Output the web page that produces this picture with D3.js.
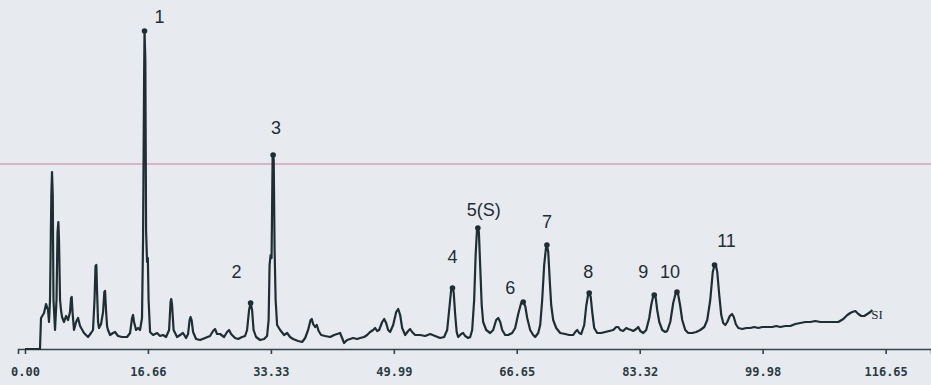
<!DOCTYPE html>
<html>
<head>
<meta charset="utf-8">
<script src="https://cdn.jsdelivr.net/npm/d3@7"></script>
<style>
  html, body { margin: 0; padding: 0; background: #e7ebf0; }
  svg { display: block; }
  .axis path, .axis line { stroke: #33444a; stroke-width: 1.6; }
  .axis text { font-family: "DejaVu Sans Mono", monospace; font-size: 12px; fill: #2a3a40; font-weight: bold; }
</style>
</head>
<body>
<svg id="chart"></svg>
<script>
// retention time (min) vs detector signal
const times = [
  0, 2.03, 2.17, 2.58, 2.85, 3.12, 3.25, 3.39, 3.57, 3.66, 3.76, 3.86, 4.07, 4.27, 4.41, 4.52, 4.61, 4.75, 4.88, 5.02,
  5.29, 5.56, 5.83, 6.10, 6.24, 6.33, 6.44, 6.64, 6.92, 7.19, 7.46, 8.00, 8.54, 8.95, 9.22, 9.42, 9.56, 9.67, 9.76, 9.90,
  10.03, 10.31, 10.58, 10.75, 10.85, 10.98, 11.12, 11.25, 11.53, 11.93, 12.20, 12.61, 13.15, 13.83, 14.24, 14.51, 14.64, 14.78, 15.05, 15.32,
  15.59, 15.86, 16.00, 16.14, 16.20, 16.31, 16.41, 16.54, 16.65, 16.75, 16.95, 17.36, 17.90, 18.31, 18.71, 19.12, 19.53, 19.73, 19.82, 19.93,
  20.14, 20.61, 21.02, 21.42, 21.83, 22.10, 22.31, 22.44, 22.58, 22.78, 23.19, 23.73, 24.41, 25.08, 25.49, 25.76, 26.03, 26.44, 26.98, 27.39,
  27.66, 27.93, 28.47, 28.88, 29.42, 29.83, 30.10, 30.37, 30.58, 30.78, 30.98, 31.32, 31.86, 32.41, 32.81, 33.02, 33.15, 33.29, 33.42, 33.56,
  33.63, 33.71, 33.83, 33.97, 34.17, 34.58, 35.12, 35.53, 35.93, 36.34, 37.02, 37.56, 37.97, 38.37, 38.71, 38.87, 39.05, 39.32, 39.55, 39.80,
  40.14, 40.68, 41.36, 41.90, 42.31, 42.71, 42.98, 43.25, 43.66, 44.07, 44.47, 45.02, 45.42, 45.97, 46.37, 46.78, 47.19, 47.46, 47.73, 48.00,
  48.41, 48.68, 48.95, 49.22, 49.49, 49.90, 50.31, 50.58, 50.85, 51.12, 51.53, 51.93, 52.20, 52.47, 52.88, 53.15, 53.56, 54.24, 54.92, 55.59,
  56.27, 56.81, 57.22, 57.56, 57.76, 57.94, 58.10, 58.31, 58.51, 58.71, 59.12, 59.39, 59.66, 60.07, 60.34, 60.61, 60.88, 61.08, 61.26, 61.38,
  61.52, 61.69, 61.90, 62.10, 62.51, 63.05, 63.46, 63.86, 64.14, 64.41, 64.68, 65.08, 65.49, 66.03, 66.44, 66.85, 67.25, 67.53, 67.80, 68.07,
  68.47, 68.88, 69.15, 69.56, 69.83, 70.10, 70.37, 70.64, 70.74, 70.92, 71.12, 71.32, 71.59, 72.00, 72.54, 73.22, 73.76, 74.31, 74.58, 74.85,
  75.12, 75.39, 75.80, 76.07, 76.34, 76.47, 76.68, 76.88, 77.15, 77.56, 78.10, 78.64, 79.19, 79.73, 80.14, 80.41, 80.68, 81.08, 81.49, 81.76,
  82.17, 82.44, 82.85, 83.12, 83.39, 83.80, 84.20, 84.61, 84.88, 85.15, 85.29, 85.49, 85.69, 85.97, 86.37, 86.78, 87.05, 87.46, 87.86, 88.20,
  88.37, 88.54, 88.81, 89.08, 89.49, 89.90, 90.44, 90.98, 91.53, 92.07, 92.47, 92.88, 93.22, 93.46, 93.63, 93.83, 94.10, 94.37, 94.64, 94.92,
  95.19, 95.53, 95.83, 96.07, 96.34, 96.68, 97.22, 97.76, 98.31, 98.85, 99.39, 99.93, 100.61, 101.29, 101.83, 102.37, 103.05, 103.73, 104.41, 105.08,
  105.76, 106.44, 107.12, 107.80, 108.61, 109.56, 110.24, 110.92, 111.46, 111.86, 112.14, 112.54, 112.95, 113.36, 113.76, 114.17, 114.58, 114.85
];

const signal = [
  0, 0, 31, 36, 45, 39, 27, 49, 154, 177, 154, 49, 19, 49, 117, 127, 109, 49, 39, 32,
  27, 33, 29, 37, 51, 52, 37, 19, 27, 31, 23, 16, 12, 16, 19, 49, 83, 84, 59, 27,
  21, 25, 37, 57, 58, 39, 23, 19, 14, 16, 17, 13, 12, 12, 16, 31, 34, 27, 19, 21,
  19, 31, 109, 269, 318, 289, 119, 87, 91, 49, 17, 14, 16, 13, 14, 12, 19, 47, 50, 44,
  19, 12, 14, 16, 11, 15, 29, 32, 29, 17, 10, 9, 11, 13, 18, 20, 15, 15, 12, 17,
  19, 15, 11, 10, 12, 13, 19, 39, 46, 39, 19, 12, 9, 10, 13, 29, 84, 94, 91, 191,
  194, 189, 99, 49, 24, 19, 14, 16, 12, 10, 8, 7, 11, 19, 29, 30, 25, 22, 24, 18,
  14, 13, 12, 14, 15, 16, 11, 6, 9, 10, 11, 10, 11, 12, 14, 17, 19, 21, 18, 19,
  27, 30, 26, 19, 17, 24, 37, 40, 34, 21, 14, 18, 20, 17, 14, 14, 14, 13, 15, 13,
  11, 12, 19, 44, 59, 61, 57, 34, 17, 12, 15, 16, 13, 11, 12, 19, 49, 94, 119, 121,
  117, 84, 44, 27, 19, 16, 19, 29, 31, 27, 19, 14, 14, 16, 21, 35, 46, 47, 43, 31,
  19, 14, 12, 16, 24, 49, 84, 103, 104, 97, 69, 44, 29, 21, 16, 15, 14, 14, 17, 19,
  16, 15, 24, 43, 55, 56, 52, 37, 21, 16, 16, 17, 18, 19, 22, 22, 19, 18, 21, 20,
  19, 18, 20, 22, 18, 16, 19, 31, 44, 53, 54, 51, 39, 27, 19, 17, 18, 27, 46, 56,
  57, 54, 43, 29, 19, 16, 16, 17, 19, 22, 29, 49, 77, 84, 84, 77, 54, 34, 26, 24,
  27, 33, 35, 32, 25, 21, 20, 21, 21, 22, 21, 22, 22, 22, 23, 22, 23, 23, 25, 26,
  27, 27, 28, 27, 27, 27, 27, 30, 34, 36, 37, 38, 35, 33, 33, 35, 37, 39, 40
];

const tickValues = [0, 16.66, 33.33, 49.99, 66.65, 83.32, 99.98, 116.65];
const tickLabels = ['0.00', '16.66', '33.33', '49.99', '66.65', '83.32', '99.98', '116.65'];

const peakNames = ['1', '2', '3', '4', '5(S)', '6', '7', '8', '9', '10', '11'];
const peakTimes = [16.20, 30.58, 33.63, 57.94, 61.38, 67.53, 70.74, 76.47, 85.29, 88.37, 93.46];

const thresholdLevel = 185;
const traceName = 'SI';

const width = 931;
const height = 385;

// label offsets from the peak apex, px
const labelOffsets = [[15, -14], [-14, -31], [3, -27], [0, -31], [6, -18], [-13, -14], [0, -23], [-1, -21], [-11, -23], [-7, -20], [12, -24]];

const x = d3.scaleLinear().domain([-0.95, 122.8]).range([18, width]);
const y = d3.scaleLinear().domain([0, 320]).range([349, 29]);

const svg = d3.select('#chart')
  .attr('width', width)
  .attr('height', height);

svg.append('rect')
  .attr('width', width).attr('height', height)
  .attr('fill', '#e7ebf0');

// threshold line
svg.append('line')
  .attr('x1', 0).attr('x2', width)
  .attr('y1', y(thresholdLevel)).attr('y2', y(thresholdLevel))
  .attr('stroke', '#c9809a')
  .attr('stroke-width', 1.2);

// axis
const xAxis = d3.axisBottom(x)
  .tickValues(tickValues)
  .tickFormat((d, i) => tickLabels[i])
  .tickSizeOuter(0)
  .tickSize(5)
  .tickPadding(13);

svg.append('g')
  .attr('class', 'axis')
  .attr('transform', `translate(0,${y(0)})`)
  .call(xAxis);

// trace
const points = times.map((t, i) => [t, signal[i]]);
const line = d3.line()
  .x(d => x(d[0]))
  .y(d => y(d[1]));

svg.append('path')
  .datum(points)
  .attr('fill', 'none')
  .attr('stroke', '#1e2e34')
  .attr('stroke-width', 2.2)
  .attr('stroke-linejoin', 'round')
  .attr('d', line);

// peak apex markers and labels
const apex = peakTimes.map(t => {
  const i = d3.minIndex(times, v => Math.abs(v - t));
  return [times[i], signal[i]];
});

svg.selectAll('circle.apex').data(apex)
  .join('circle')
  .attr('class', 'apex')
  .attr('cx', d => x(d[0]))
  .attr('cy', d => y(d[1]))
  .attr('r', 2.8)
  .attr('fill', '#1e2e34');

svg.selectAll('text.peak').data(apex)
  .join('text')
  .attr('class', 'peak')
  .attr('x', (d, i) => x(d[0]) + labelOffsets[i][0])
  .attr('y', (d, i) => y(d[1]) + labelOffsets[i][1])
  .attr('text-anchor', 'middle')
  .attr('dominant-baseline', 'central')
  .style('font-family', '"Liberation Sans", Arial, sans-serif')
  .style('font-size', '18px')
  .attr('fill', '#222d33')
  .text((d, i) => peakNames[i]);

const last = points[points.length - 1];
svg.append('text')
  .attr('x', x(last[0]) - 1)
  .attr('y', y(last[1]) + 4)
  .attr('dominant-baseline', 'central')
  .style('font-family', '"Liberation Serif", serif')
  .style('font-size', '13px')
  .attr('fill', '#222d33')
  .text(traceName);
</script>
</body>
</html>
